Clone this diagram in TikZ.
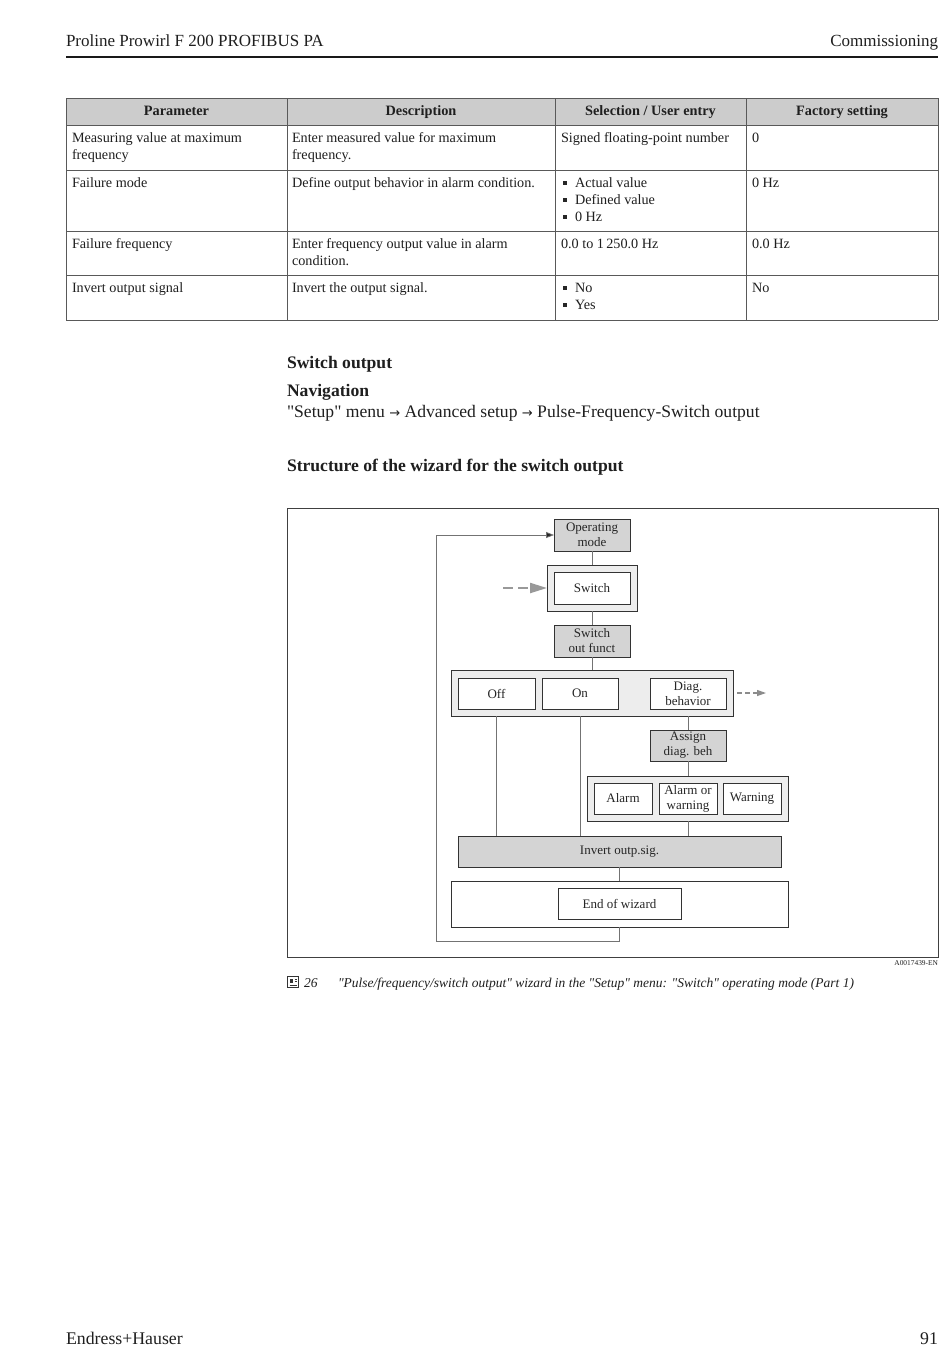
\documentclass[tikz,border=0pt]{standalone}
\usepackage{fontspec}
\setmainfont{Liberation Serif}
\newfontfamily\plainserif{Liberation Serif}
\newfontfamily\arrowfont{DejaVu Sans}
\usetikzlibrary{arrows.meta}

\newcommand\navarrow{{\arrowfont\fontsize{13}{13}\selectfont →}}

\tikzset{
  txt/.style={inner sep=0pt,outer sep=0pt,text=black!88},
  cell/.style={txt,anchor=base west,font=\fontsize{14.2}{17}\selectfont},
  colhead/.style={txt,anchor=base,font=\bfseries\fontsize{14.3}{17}\selectfont},
  heading/.style={txt,anchor=base west,font=\bfseries\fontsize{17.6}{20}\selectfont},
  pagetxt/.style={txt,font=\fontsize{17}{20}\selectfont},
  rule/.style={draw=black!65,line width=0.8pt},
  menubox/.style={draw=black!80,line width=1pt,inner sep=0pt,outer sep=0pt,align=center,
    text=black!85,font=\fontsize{13}{15}\selectfont},
  param/.style={menubox,fill=black!17,minimum width=76,minimum height=32},
  choice/.style={menubox,fill=white,minimum height=31},
  group/.style={menubox,fill=black!7,minimum height=46},
  link/.style={draw=black!55,line width=0.8pt},
  feed/.style={draw=black!40,line width=2.2pt,dash pattern=on 10pt off 5pt,
    -{Triangle[length=17pt,width=10pt,fill=black!40]}},
  feedout/.style={draw=black!45,line width=1.2pt,dash pattern=on 5pt off 3pt,
    -{Triangle[length=9pt,width=6pt,fill=black!45]}},
}

\begin{document}
\begin{tikzpicture}[x=1pt,y=-1pt,line cap=butt]
\useasboundingbox (0,0) rectangle (950,1369);
\fill[white] (0,0) rectangle (950,1369);

% page head and foot
\node[pagetxt,anchor=base west] (hleft) at (66,46) {Proline Prowirl F 200 PROFIBUS PA};
\node[pagetxt,anchor=base east] (hright) at (938,46) {Commissioning};
\draw[black!90,line width=1.3pt] (66,57) -- (938,57);
\node[pagetxt,anchor=base west,font=\fontsize{17.8}{20}\selectfont] (fleft) at (66,1344) {Endress+Hauser};
\node[pagetxt,anchor=base east,font=\fontsize{17.8}{20}\selectfont] (fright) at (938,1344) {91};

% parameter table
\fill[black!20] (66,98) rectangle (938,125);
\foreach \x in {66,287,555,746,938} \draw[rule] (\x,98) -- (\x,320);
\foreach \y in {98,125,170,231,275,320} \draw[rule] (66,\y) -- (938,\y);
\node[colhead] (th1) at (176.5,115) {Parameter};
\node[colhead] (th2) at (421,115) {Description};
\node[colhead] (th3) at (650.5,115) {Selection / User entry};
\node[colhead] (th4) at (842,115) {Factory setting};

\node[cell] (r1a) at (72,142) {Measuring value at maximum};
\node[cell] (r1b) at (72,159) {frequency};
\node[cell] (r1c) at (292,142) {Enter measured value for maximum};
\node[cell] (r1d) at (292,159) {frequency.};
\node[cell] (r1e) at (561,142) {Signed floating-point number};
\node[cell] (r1f) at (752,142) {0};

\node[cell] (r2a) at (72,187) {Failure mode};
\node[cell] (r2c) at (292,187) {Define output behavior in alarm condition.};
\node[cell] (r2e) at (575,187) {Actual value};
\node[cell] (r2g) at (575,204) {Defined value};
\node[cell] (r2h) at (575,221) {0 Hz};
\node[cell] (r2f) at (752,187) {0 Hz};

\node[cell] (r3a) at (72,248) {Failure frequency};
\node[cell] (r3c) at (292,248) {Enter frequency output value in alarm};
\node[cell] (r3d) at (292,265) {condition.};
\node[cell] (r3e) at (561,248) {0.0 to 1\,250.0 Hz};
\node[cell] (r3f) at (752,248) {0.0 Hz};

\node[cell] (r4a) at (72,292) {Invert output signal};
\node[cell] (r4c) at (292,292) {Invert the output signal.};
\node[cell] (r4e) at (575,292) {No};
\node[cell] (r4g) at (575,309) {Yes};
\node[cell] (r4f) at (752,292) {No};
\foreach \b in {187,204,221,292,309} \fill[black!85] (563,\b-6) rectangle (567,\b-2);

% section text
\node[heading] (sec) at (287,368) {Switch output};
\node[heading] (nav) at (287,396) {Navigation};
\node[txt,anchor=base west,font=\plainserif\fontsize{17.6}{20}\selectfont] (path) at (287,417)
  {"Setup" menu \navarrow\ Advanced setup \navarrow\ Pulse-Frequency-Switch output};
\node[heading] (struct) at (287,471) {Structure of the wizard for the switch output};

% wizard diagram
\draw[black!75,line width=1pt] (287,508) rectangle (938,957);

\node[param] (opmode) at (592,535) {Operating\\mode};
\node[group,minimum width=90] (swgrp) at (592,588) {};
\node[choice,minimum width=76,minimum height=32] (sw) at (592,588) {Switch};
\node[param] (swfunct) at (592,641) {Switch\\out funct};

\node[group,minimum width=282] (optgrp) at (592,693) {};
\node[choice,minimum width=77] (off) at (496.5,693.5) {Off};
\node[choice,minimum width=76] (on) at (580,693.5) {On};
\node[choice,minimum width=76] (diag) at (688,693.5) {Diag.\\behavior};

\node[param,minimum height=31] (assign) at (688,745.5) {Assign\\diag. beh};
\node[group,minimum width=201,minimum height=45] (algrp) at (687.5,798.5) {};
\node[choice,minimum width=58] (alarm) at (623,798.5) {Alarm};
\node[choice,minimum width=58] (alwarn) at (688,798.5) {Alarm or\\warning};
\node[choice,minimum width=58] (warn) at (752,798.5) {Warning};

\node[param,minimum width=323,minimum height=31] (invert) at (619.5,851.5) {Invert outp.sig.};
\node[group,fill=white,minimum width=337] (endgrp) at (619.5,904) {};
\node[choice,minimum width=123] (endw) at (619.5,903.5) {End of wizard};

\coordinate (ret) at (436,941);
\coordinate (feedin) at (503,588);
\coordinate (feedto) at (766,693);

\draw[link] (opmode) -- (swgrp);
\draw[link] (swgrp) -- (swfunct);
\draw[link] (swfunct) -- (optgrp);
\draw[link] (off |- optgrp.south) -- (off |- invert.north);
\draw[link] (on |- optgrp.south) -- (on |- invert.north);
\draw[link] (diag |- optgrp.south) -- (assign.north);
\draw[link] (assign.south) -- (assign.south |- algrp.north);
\draw[link] (assign |- algrp.south) -- (assign |- invert.north);
\draw[link] (invert) -- (endgrp);
\draw[link,-{Triangle[length=8pt,width=6pt,fill=black!85]}] (endgrp.south) |- (ret) |- (opmode.west);

\draw[feed] (feedin) -- (swgrp.west);
\draw[feedout] ([xshift=4pt]optgrp.east) -- (feedto);

\node[txt,anchor=base east,font=\fontsize{7.4}{8}\selectfont] (code) at (938,965) {A0017439-EN};

% caption
\draw[black!80,line width=0.8pt] (287.5,976.5) rectangle (298.5,987.5);
\fill[black!80] (289.5,978.5) rectangle (293,983);
\draw[black!80,line width=0.6pt] (294.5,979) -- (297,979) (294.5,981.5) -- (297,981.5) (289.5,985) -- (297,985);
\node[txt,anchor=base west,font=\itshape\fontsize{13.5}{16}\selectfont] (fignum) at (304,987) {26};
\node[txt,anchor=base west,font=\plainserif\itshape\fontsize{13.5}{16}\selectfont] (caption) at (338,987)
  {"Pulse/frequency/switch output" wizard in the "Setup" menu: "Switch" operating mode (Part 1)};
\end{tikzpicture}
\end{document}
